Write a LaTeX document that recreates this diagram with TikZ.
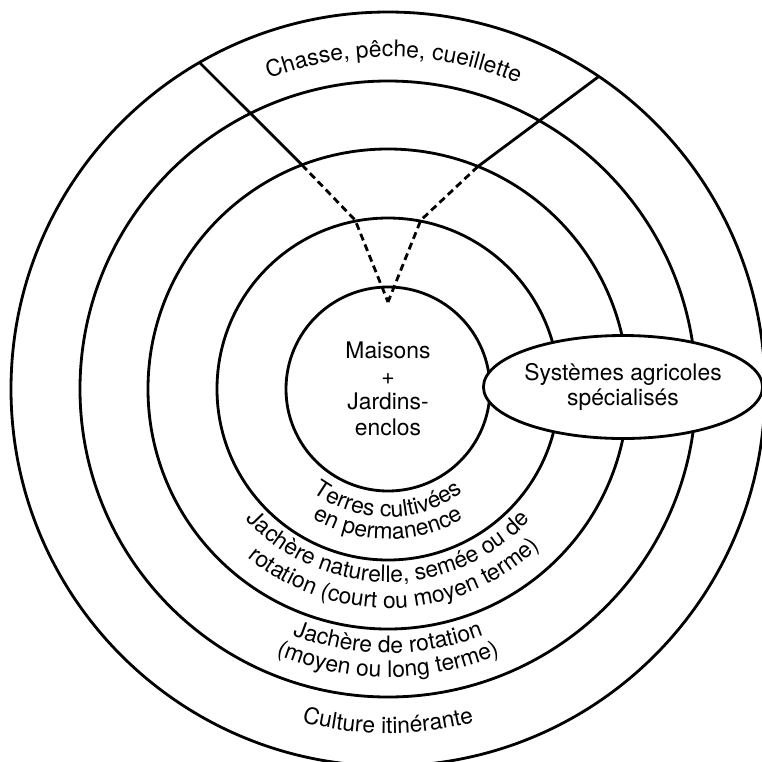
\documentclass[tikz,border=0pt]{standalone}
\usepackage{fontspec}
\setmainfont{TeX Gyre Heros}
\usepackage{tikz}
\usetikzlibrary{
  positioning,
  shapes.geometric,
  decorations.text
}
\definecolor{RingColor}{RGB}{0,0,0}
\newcommand{\ringfont}{\fontsize{13}{14.5}\selectfont}
\tikzset{
  % Concentric ring
  ring/.style={
    draw=RingColor,
    line width=1.6pt
  },
  % Central circle
  hub/.style={
    circle,
    draw=RingColor,
    line width=1.6pt,
    minimum size=40.8mm,
    inner sep=0pt,
    align=center,
    font=\ringfont
  },
  % Side ellipse
  oval/.style={
    ellipse,
    draw=RingColor,
    fill=white,
    line width=1.6pt,
    minimum width=52mm,
    minimum height=20.6mm,
    inner sep=0pt,
    align=center,
    font=\ringfont
  },
  % Divider line
  divider/.style={draw=RingColor, line width=1.6pt},
  % Dashed divider line
  ddivider/.style={draw=RingColor, line width=1.6pt, dash pattern=on 4pt off 2.5pt},
  % Text along a ring
  ringtext/.style={
    decorate,
    decoration={text along path, text align=center, text={|\ringfont|#1}}
  }
}

\begin{document}
\begin{tikzpicture}[x=0.2mm, y=0.2mm]
  \useasboundingbox (-388,-372) rectangle (374,389);
  \clip (-388,-372) rectangle (374,389);

  % Centre and rings
  \node[hub] (maisons) at (0,0) {Maisons\\+\\Jardins-\\enclos};
  \foreach \r in {171,240,308,377}
    \draw[ring] (maisons.center) circle[radius=\r];

  % Dividers of the hunting zone
  \coordinate (l0) at (120:377);
  \coordinate (l3) at (111:240);
  \coordinate (l4) at (101:172);
  \coordinate (r0) at (56:377);
  \coordinate (r3) at (68:240);
  \coordinate (r4) at (79:172);
  \coordinate (tip) at (0,87);
  \draw[divider] (l0) -- (l3);
  \draw[divider] (r0) -- (r3);
  \draw[ddivider] (l3) -- (l4) -- (tip);
  \draw[ddivider] (r3) -- (r4) -- (tip);

  % Specialised systems
  \node[oval] (systemes) at (235,2) {Systèmes agricoles\\spécialisés};

  % Ring labels
  \path[ringtext={Chasse, pêche, cueillette}] (149:332) arc[start angle=149, end angle=29, radius=332];
  \path[ringtext={Terres cultivées}] (200:128) arc[start angle=200, end angle=340, radius=128];
  \path[ringtext={en permanence}] (200:150) arc[start angle=200, end angle=340, radius=150];
  \path[ringtext={Jachère naturelle, semée ou de}] (200:193) arc[start angle=200, end angle=340, radius=193];
  \path[ringtext={rotation (court ou moyen terme)}] (202:219) arc[start angle=202, end angle=342, radius=219];
  \path[ringtext={Jachère de rotation}] (200:264) arc[start angle=200, end angle=340, radius=264];
  \path[ringtext={(moyen ou long terme)}] (200:288) arc[start angle=200, end angle=340, radius=288];
  \path[ringtext={Culture itinérante}] (200:344) arc[start angle=200, end angle=340, radius=344];
\end{tikzpicture}
\end{document}
